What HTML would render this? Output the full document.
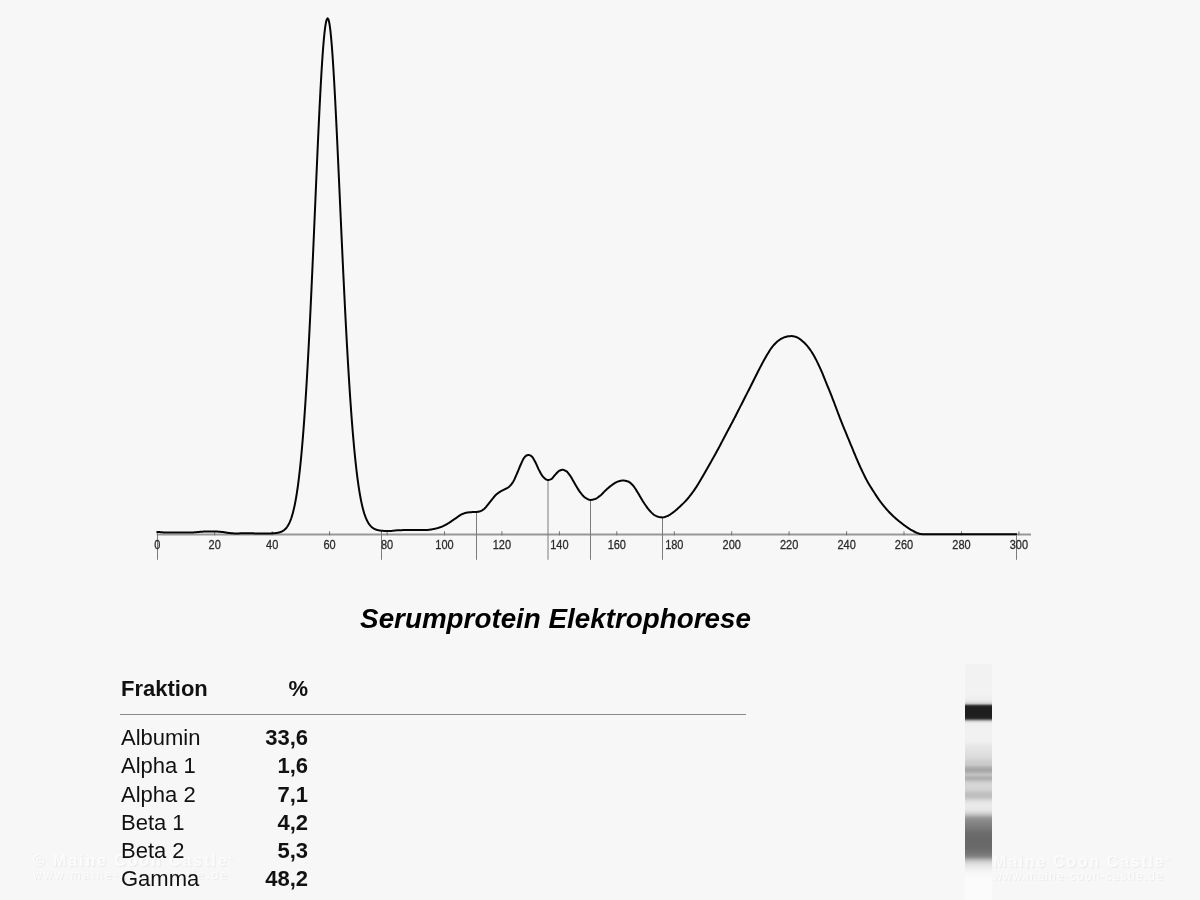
<!DOCTYPE html>
<html lang="de">
<head>
<meta charset="utf-8">
<title>Serumprotein Elektrophorese</title>
<style>
html,body{margin:0;padding:0;}
body{width:1200px;height:900px;overflow:hidden;background:#f7f7f7;font-family:"Liberation Sans",sans-serif;position:relative;}
#chart{position:absolute;left:0;top:0;width:1200px;height:600px;will-change:transform;}
#chart text{font-family:"Liberation Sans",sans-serif;font-size:11px;fill:#2a2a2a;stroke:#2a2a2a;stroke-width:0.25px;text-anchor:middle;}
.title{position:absolute;left:0;top:602.3px;width:1111px;text-align:center;font-weight:bold;font-style:italic;font-size:27.8px;line-height:34px;color:#000;white-space:nowrap;}
.hd{position:absolute;top:676.6px;font-weight:bold;font-size:22px;line-height:24px;color:#111;}
.rule{position:absolute;left:120px;top:714px;width:626px;height:1px;background:#8a8a8a;}
.rn{position:absolute;left:121px;font-size:22px;line-height:24px;color:#111;white-space:nowrap;}
.rv{position:absolute;left:208px;width:100px;text-align:right;font-weight:bold;font-size:22px;line-height:24px;color:#111;white-space:nowrap;}
.gel{position:absolute;left:965px;top:664.0px;width:27px;height:236px;background:linear-gradient(to bottom,rgb(243,243,243) 0.00%,rgb(243,243,243) 0.42%,rgb(242,242,242) 0.85%,rgb(242,242,242) 1.27%,rgb(242,242,242) 1.69%,rgb(242,242,242) 2.12%,rgb(242,242,242) 2.54%,rgb(242,242,242) 2.97%,rgb(242,242,242) 3.39%,rgb(242,242,242) 3.81%,rgb(242,242,242) 4.24%,rgb(242,242,242) 4.66%,rgb(242,242,242) 5.08%,rgb(242,242,242) 5.51%,rgb(242,242,242) 5.93%,rgb(242,242,242) 6.36%,rgb(242,242,242) 6.78%,rgb(242,242,242) 7.20%,rgb(242,242,242) 7.63%,rgb(242,242,242) 8.05%,rgb(242,242,242) 8.47%,rgb(242,242,242) 8.90%,rgb(242,242,242) 9.32%,rgb(242,242,242) 9.75%,rgb(242,242,242) 10.17%,rgb(242,242,242) 10.59%,rgb(242,242,242) 11.02%,rgb(242,242,242) 11.44%,rgb(242,242,242) 11.86%,rgb(242,242,242) 12.29%,rgb(241,241,241) 12.71%,rgb(241,241,241) 13.14%,rgb(241,241,241) 13.56%,rgb(240,240,240) 13.98%,rgb(240,240,240) 14.41%,rgb(238,238,238) 14.83%,rgb(236,236,236) 15.25%,rgb(232,232,232) 15.68%,rgb(225,225,225) 16.10%,rgb(213,213,213) 16.53%,rgb(184,184,184) 16.95%,rgb(96,96,96) 17.37%,rgb(42,42,42) 17.80%,rgb(34,34,34) 18.22%,rgb(32,32,32) 18.64%,rgb(31,31,31) 19.07%,rgb(31,31,31) 19.49%,rgb(30,30,30) 19.92%,rgb(30,30,30) 20.34%,rgb(30,30,30) 20.76%,rgb(30,30,30) 21.19%,rgb(31,31,31) 21.61%,rgb(32,32,32) 22.03%,rgb(33,33,33) 22.46%,rgb(38,38,38) 22.88%,rgb(71,71,71) 23.31%,rgb(134,134,134) 23.73%,rgb(189,189,189) 24.15%,rgb(223,223,223) 24.58%,rgb(235,235,235) 25.00%,rgb(239,239,239) 25.42%,rgb(240,240,240) 25.85%,rgb(240,240,240) 26.27%,rgb(241,241,241) 26.69%,rgb(241,241,241) 27.12%,rgb(241,241,241) 27.54%,rgb(241,241,241) 27.97%,rgb(241,241,241) 28.39%,rgb(241,241,241) 28.81%,rgb(241,241,241) 29.24%,rgb(241,241,241) 29.66%,rgb(241,241,241) 30.08%,rgb(241,241,241) 30.51%,rgb(241,241,241) 30.93%,rgb(241,241,241) 31.36%,rgb(241,241,241) 31.78%,rgb(240,240,240) 32.20%,rgb(240,240,240) 32.63%,rgb(240,240,240) 33.05%,rgb(238,238,238) 33.47%,rgb(235,235,235) 33.90%,rgb(233,233,233) 34.32%,rgb(231,231,231) 34.75%,rgb(230,230,230) 35.17%,rgb(229,229,229) 35.59%,rgb(229,229,229) 36.02%,rgb(227,227,227) 36.44%,rgb(226,226,226) 36.86%,rgb(225,225,225) 37.29%,rgb(224,224,224) 37.71%,rgb(223,223,223) 38.14%,rgb(221,221,221) 38.56%,rgb(220,220,220) 38.98%,rgb(219,219,219) 39.41%,rgb(217,217,217) 39.83%,rgb(215,215,215) 40.25%,rgb(211,211,211) 40.68%,rgb(207,207,207) 41.10%,rgb(205,205,205) 41.53%,rgb(204,204,204) 41.95%,rgb(202,202,202) 42.37%,rgb(200,200,200) 42.80%,rgb(192,192,192) 43.22%,rgb(180,180,180) 43.64%,rgb(173,173,173) 44.07%,rgb(169,169,169) 44.49%,rgb(166,166,166) 44.92%,rgb(168,168,168) 45.34%,rgb(175,175,175) 45.76%,rgb(182,182,182) 46.19%,rgb(191,191,191) 46.61%,rgb(194,194,194) 47.03%,rgb(187,187,187) 47.46%,rgb(180,180,180) 47.88%,rgb(174,174,174) 48.31%,rgb(177,177,177) 48.73%,rgb(185,185,185) 49.15%,rgb(195,195,195) 49.58%,rgb(205,205,205) 50.00%,rgb(209,209,209) 50.42%,rgb(212,212,212) 50.85%,rgb(213,213,213) 51.27%,rgb(214,214,214) 51.69%,rgb(214,214,214) 52.12%,rgb(213,213,213) 52.54%,rgb(211,211,211) 52.97%,rgb(208,208,208) 53.39%,rgb(204,204,204) 53.81%,rgb(198,198,198) 54.24%,rgb(194,194,194) 54.66%,rgb(192,192,192) 55.08%,rgb(190,190,190) 55.51%,rgb(191,191,191) 55.93%,rgb(194,194,194) 56.36%,rgb(198,198,198) 56.78%,rgb(205,205,205) 57.20%,rgb(215,215,215) 57.63%,rgb(222,222,222) 58.05%,rgb(226,226,226) 58.47%,rgb(230,230,230) 58.90%,rgb(233,233,233) 59.32%,rgb(234,234,234) 59.75%,rgb(234,234,234) 60.17%,rgb(233,233,233) 60.59%,rgb(232,232,232) 61.02%,rgb(231,231,231) 61.44%,rgb(229,229,229) 61.86%,rgb(224,224,224) 62.29%,rgb(217,217,217) 62.71%,rgb(210,210,210) 63.14%,rgb(201,201,201) 63.56%,rgb(190,190,190) 63.98%,rgb(177,177,177) 64.41%,rgb(163,163,163) 64.83%,rgb(154,154,154) 65.25%,rgb(147,147,147) 65.68%,rgb(142,142,142) 66.10%,rgb(138,138,138) 66.53%,rgb(135,135,135) 66.95%,rgb(132,132,132) 67.37%,rgb(130,130,130) 67.80%,rgb(128,128,128) 68.22%,rgb(125,125,125) 68.64%,rgb(123,123,123) 69.07%,rgb(120,120,120) 69.49%,rgb(117,117,117) 69.92%,rgb(115,115,115) 70.34%,rgb(113,113,113) 70.76%,rgb(111,111,111) 71.19%,rgb(109,109,109) 71.61%,rgb(108,108,108) 72.03%,rgb(107,107,107) 72.46%,rgb(106,106,106) 72.88%,rgb(105,105,105) 73.31%,rgb(104,104,104) 73.73%,rgb(104,104,104) 74.15%,rgb(104,104,104) 74.58%,rgb(104,104,104) 75.00%,rgb(104,104,104) 75.42%,rgb(104,104,104) 75.85%,rgb(105,105,105) 76.27%,rgb(105,105,105) 76.69%,rgb(105,105,105) 77.12%,rgb(106,106,106) 77.54%,rgb(106,106,106) 77.97%,rgb(108,108,108) 78.39%,rgb(110,110,110) 78.81%,rgb(113,113,113) 79.24%,rgb(115,115,115) 79.66%,rgb(117,117,117) 80.08%,rgb(120,120,120) 80.51%,rgb(124,124,124) 80.93%,rgb(129,129,129) 81.36%,rgb(140,140,140) 81.78%,rgb(153,153,153) 82.20%,rgb(170,170,170) 82.63%,rgb(185,185,185) 83.05%,rgb(197,197,197) 83.47%,rgb(208,208,208) 83.90%,rgb(215,215,215) 84.32%,rgb(221,221,221) 84.75%,rgb(226,226,226) 85.17%,rgb(230,230,230) 85.59%,rgb(234,234,234) 86.02%,rgb(236,236,236) 86.44%,rgb(239,239,239) 86.86%,rgb(241,241,241) 87.29%,rgb(243,243,243) 87.71%,rgb(245,245,245) 88.14%,rgb(246,246,246) 88.56%,rgb(248,248,248) 88.98%,rgb(248,248,248) 89.41%,rgb(249,249,249) 89.83%,rgb(250,250,250) 90.25%,rgb(251,251,251) 90.68%,rgb(251,251,251) 91.10%,rgb(251,251,251) 91.53%,rgb(251,251,251) 91.95%,rgb(251,251,251) 92.37%,rgb(251,251,251) 92.80%,rgb(251,251,251) 93.22%,rgb(251,251,251) 93.64%,rgb(251,251,251) 94.07%,rgb(251,251,251) 94.49%,rgb(251,251,251) 94.92%,rgb(251,251,251) 95.34%,rgb(251,251,251) 95.76%,rgb(251,251,251) 96.19%,rgb(251,251,251) 96.61%,rgb(251,251,251) 97.03%,rgb(251,251,251) 97.46%,rgb(251,251,251) 97.88%,rgb(251,251,251) 98.31%,rgb(251,251,251) 98.73%,rgb(251,251,251) 99.15%,rgb(251,251,251) 99.58%,rgb(251,251,251) 100.00%);}
.wm{position:absolute;z-index:0;color:#fff;opacity:.62;font-weight:bold;white-space:nowrap;text-shadow:1px 1px 1px rgba(0,0,0,.10);}
.hd,.rn,.rv{z-index:2;}
.title,.hd,.rn,.rv,.wm{will-change:transform;}
</style>
</head>
<body>
<svg id="chart" width="1200" height="600" viewBox="0 0 1200 600">
<line x1="157" y1="534.5" x2="1031" y2="534.5" stroke="#989898" stroke-width="2"/>
<g stroke="#707070" stroke-width="1"><line x1="157.3" y1="531.3" x2="157.3" y2="535.3" /><line x1="214.7" y1="531.3" x2="214.7" y2="535.3" /><line x1="272.2" y1="531.3" x2="272.2" y2="535.3" /><line x1="329.6" y1="531.3" x2="329.6" y2="535.3" /><line x1="387.1" y1="531.3" x2="387.1" y2="535.3" /><line x1="444.5" y1="531.3" x2="444.5" y2="535.3" /><line x1="501.9" y1="531.3" x2="501.9" y2="535.3" /><line x1="559.4" y1="531.3" x2="559.4" y2="535.3" /><line x1="616.8" y1="531.3" x2="616.8" y2="535.3" /><line x1="674.3" y1="531.3" x2="674.3" y2="535.3" /><line x1="731.7" y1="531.3" x2="731.7" y2="535.3" /><line x1="789.1" y1="531.3" x2="789.1" y2="535.3" /><line x1="846.6" y1="531.3" x2="846.6" y2="535.3" /><line x1="904.0" y1="531.3" x2="904.0" y2="535.3" /><line x1="961.5" y1="531.3" x2="961.5" y2="535.3" /><line x1="1018.9" y1="531.3" x2="1018.9" y2="535.3" /></g>
<g stroke="#7c7c7c" stroke-width="1"><line x1="157.5" y1="531.9" x2="157.5" y2="559.8" /><line x1="381.5" y1="530.7" x2="381.5" y2="559.8" /><line x1="476.5" y1="512.0" x2="476.5" y2="559.8" /><line x1="548.0" y1="480.0" x2="548.0" y2="559.8" /><line x1="590.5" y1="499.9" x2="590.5" y2="559.8" /><line x1="662.5" y1="517.4" x2="662.5" y2="559.8" /><line x1="1016.5" y1="533.0" x2="1016.5" y2="559.8" /></g>
<g><text transform="translate(157.3,548.9) scale(1,1.1)">0</text><text transform="translate(214.7,548.9) scale(1,1.1)">20</text><text transform="translate(272.2,548.9) scale(1,1.1)">40</text><text transform="translate(329.6,548.9) scale(1,1.1)">60</text><text transform="translate(387.1,548.9) scale(1,1.1)">80</text><text transform="translate(444.5,548.9) scale(1,1.1)">100</text><text transform="translate(501.9,548.9) scale(1,1.1)">120</text><text transform="translate(559.4,548.9) scale(1,1.1)">140</text><text transform="translate(616.8,548.9) scale(1,1.1)">160</text><text transform="translate(674.3,548.9) scale(1,1.1)">180</text><text transform="translate(731.7,548.9) scale(1,1.1)">200</text><text transform="translate(789.1,548.9) scale(1,1.1)">220</text><text transform="translate(846.6,548.9) scale(1,1.1)">240</text><text transform="translate(904.0,548.9) scale(1,1.1)">260</text><text transform="translate(961.5,548.9) scale(1,1.1)">280</text><text transform="translate(1018.9,548.9) scale(1,1.1)">300</text></g>
<path d="M157.30,531.90 L157.80,531.95 L158.30,531.99 L158.80,532.04 L159.30,532.08 L159.80,532.12 L160.30,532.17 L160.80,532.21 L161.30,532.25 L161.80,532.29 L162.30,532.32 L162.80,532.36 L163.30,532.39 L163.80,532.41 L164.30,532.44 L164.80,532.46 L165.30,532.48 L165.80,532.49 L166.30,532.50 L166.80,532.51 L167.30,532.51 L167.80,532.52 L168.30,532.53 L168.80,532.53 L169.30,532.54 L169.80,532.54 L170.30,532.55 L170.80,532.55 L171.30,532.56 L171.80,532.56 L172.30,532.57 L172.80,532.57 L173.30,532.57 L173.80,532.58 L174.30,532.58 L174.80,532.58 L175.30,532.59 L175.80,532.59 L176.30,532.59 L176.80,532.59 L177.30,532.60 L177.80,532.60 L178.30,532.60 L178.80,532.60 L179.30,532.60 L179.80,532.60 L180.30,532.60 L180.80,532.60 L181.30,532.60 L181.80,532.60 L182.30,532.60 L182.80,532.59 L183.30,532.59 L183.80,532.59 L184.30,532.58 L184.80,532.58 L185.30,532.58 L185.80,532.57 L186.30,532.57 L186.80,532.56 L187.30,532.55 L187.80,532.55 L188.30,532.54 L188.80,532.54 L189.30,532.53 L189.80,532.52 L190.30,532.52 L190.80,532.51 L191.30,532.50 L191.80,532.49 L192.30,532.47 L192.80,532.45 L193.30,532.42 L193.80,532.39 L194.30,532.35 L194.80,532.31 L195.30,532.27 L195.80,532.22 L196.30,532.17 L196.80,532.13 L197.30,532.08 L197.80,532.03 L198.30,531.98 L198.80,531.93 L199.30,531.88 L199.80,531.83 L200.30,531.79 L200.80,531.75 L201.30,531.71 L201.80,531.68 L202.30,531.65 L202.80,531.63 L203.30,531.61 L203.80,531.60 L204.30,531.59 L204.80,531.58 L205.30,531.58 L205.80,531.57 L206.30,531.56 L206.80,531.56 L207.30,531.55 L207.80,531.54 L208.30,531.54 L208.80,531.53 L209.30,531.53 L209.80,531.52 L210.30,531.52 L210.80,531.52 L211.30,531.51 L211.80,531.51 L212.30,531.51 L212.80,531.50 L213.30,531.50 L213.80,531.50 L214.30,531.50 L214.80,531.50 L215.30,531.50 L215.80,531.51 L216.30,531.52 L216.80,531.54 L217.30,531.57 L217.80,531.60 L218.30,531.63 L218.80,531.67 L219.30,531.71 L219.80,531.75 L220.30,531.80 L220.80,531.84 L221.30,531.89 L221.80,531.93 L222.30,531.98 L222.80,532.03 L223.30,532.09 L223.80,532.15 L224.30,532.23 L224.80,532.31 L225.30,532.40 L225.80,532.48 L226.30,532.57 L226.80,532.66 L227.30,532.75 L227.80,532.83 L228.30,532.90 L228.80,532.97 L229.30,533.03 L229.80,533.08 L230.30,533.12 L230.80,533.16 L231.30,533.20 L231.80,533.24 L232.30,533.28 L232.80,533.31 L233.30,533.35 L233.80,533.38 L234.30,533.40 L234.80,533.43 L235.30,533.45 L235.80,533.47 L236.30,533.49 L236.80,533.49 L237.30,533.50 L237.80,533.50 L238.30,533.48 L238.80,533.45 L239.30,533.41 L239.80,533.37 L240.30,533.32 L240.80,533.28 L241.30,533.24 L241.80,533.22 L242.30,533.20 L242.80,533.20 L243.30,533.20 L243.80,533.20 L244.30,533.21 L244.80,533.21 L245.30,533.22 L245.80,533.22 L246.30,533.23 L246.80,533.24 L247.30,533.25 L247.80,533.26 L248.30,533.27 L248.80,533.27 L249.30,533.28 L249.80,533.29 L250.30,533.30 L250.80,533.31 L251.30,533.32 L251.80,533.33 L252.30,533.34 L252.80,533.35 L253.30,533.36 L253.80,533.37 L254.30,533.38 L254.80,533.39 L255.30,533.39 L255.80,533.40 L256.30,533.40 L256.80,533.41 L257.30,533.41 L257.80,533.42 L258.30,533.42 L258.80,533.43 L259.30,533.43 L259.80,533.44 L260.30,533.44 L260.80,533.45 L261.30,533.45 L261.80,533.46 L262.30,533.46 L262.80,533.47 L263.30,533.47 L263.80,533.47 L264.30,533.48 L264.80,533.48 L265.30,533.48 L265.80,533.49 L266.30,533.49 L266.80,533.49 L267.30,533.49 L267.80,533.50 L268.30,533.50 L268.59,533.45 L268.72,533.44 L268.86,533.44 L269.00,533.44 L269.14,533.44 L269.28,533.44 L269.42,533.43 L269.55,533.43 L269.69,533.43 L269.83,533.42 L269.97,533.42 L270.12,533.42 L270.26,533.41 L270.40,533.41 L270.54,533.41 L270.68,533.40 L270.82,533.40 L270.97,533.39 L271.11,533.39 L271.25,533.38 L271.40,533.38 L271.54,533.37 L271.69,533.37 L271.83,533.36 L271.98,533.36 L272.12,533.35 L272.27,533.34 L272.41,533.34 L272.56,533.33 L272.71,533.32 L272.86,533.31 L273.00,533.31 L273.15,533.30 L273.30,533.29 L273.45,533.28 L273.60,533.27 L273.75,533.26 L273.90,533.25 L274.05,533.24 L274.20,533.23 L274.36,533.21 L274.51,533.20 L274.66,533.19 L274.81,533.18 L274.97,533.16 L275.12,533.15 L275.28,533.13 L275.43,533.12 L275.59,533.10 L275.74,533.08 L275.90,533.06 L276.06,533.04 L276.21,533.02 L276.37,533.00 L276.53,532.98 L276.69,532.96 L276.85,532.93 L277.01,532.91 L277.17,532.88 L277.33,532.86 L277.49,532.83 L277.65,532.80 L277.82,532.77 L277.98,532.74 L278.14,532.70 L278.31,532.67 L278.47,532.63 L278.64,532.59 L278.80,532.55 L278.97,532.51 L279.14,532.47 L279.30,532.43 L279.47,532.38 L279.64,532.33 L279.81,532.28 L279.98,532.22 L280.15,532.17 L280.32,532.11 L280.49,532.05 L280.67,531.99 L280.84,531.92 L281.01,531.85 L281.19,531.78 L281.36,531.70 L281.54,531.63 L281.72,531.54 L281.89,531.46 L282.07,531.37 L282.25,531.28 L282.43,531.18 L282.61,531.08 L282.79,530.97 L282.97,530.86 L283.16,530.74 L283.34,530.62 L283.52,530.50 L283.71,530.37 L283.89,530.23 L284.08,530.09 L284.27,529.94 L284.46,529.78 L284.65,529.62 L284.84,529.45 L285.03,529.27 L285.22,529.09 L285.41,528.89 L285.60,528.69 L285.80,528.48 L285.99,528.26 L286.19,528.03 L286.39,527.80 L286.59,527.55 L286.79,527.29 L286.99,527.01 L287.19,526.73 L287.39,526.43 L287.60,526.13 L287.80,525.80 L288.01,525.47 L288.21,525.12 L288.42,524.75 L288.63,524.37 L288.84,523.97 L289.05,523.55 L289.27,523.11 L289.48,522.66 L289.70,522.19 L289.91,521.69 L290.13,521.17 L290.35,520.64 L290.57,520.07 L290.79,519.49 L291.02,518.87 L291.24,518.23 L291.47,517.57 L291.70,516.87 L291.93,516.14 L292.16,515.38 L292.39,514.59 L292.63,513.76 L292.86,512.90 L293.10,512.00 L293.34,511.06 L293.58,510.08 L293.83,509.05 L294.07,507.99 L294.32,506.87 L294.57,505.71 L294.82,504.49 L295.07,503.22 L295.33,501.90 L295.59,500.52 L295.85,499.07 L296.11,497.57 L296.37,496.00 L296.64,494.36 L296.91,492.64 L297.18,490.86 L297.45,488.99 L297.73,487.05 L298.01,485.02 L298.29,482.90 L298.57,480.68 L298.86,478.37 L299.15,475.96 L299.44,473.45 L299.74,470.82 L300.03,468.08 L300.34,465.22 L300.64,462.23 L300.95,459.12 L301.26,455.86 L301.58,452.47 L301.90,448.92 L302.22,445.22 L302.55,441.36 L302.88,437.33 L303.21,433.12 L303.55,428.73 L303.90,424.15 L304.25,419.37 L304.60,414.37 L304.96,409.16 L305.32,403.72 L305.69,398.05 L306.07,392.12 L306.45,385.94 L306.83,379.48 L307.22,372.75 L307.62,365.71 L308.03,358.37 L308.44,350.71 L308.86,342.72 L309.29,334.37 L309.73,325.66 L310.18,316.57 L310.63,307.08 L311.10,297.17 L311.58,286.84 L312.07,276.05 L312.13,274.75 L312.19,273.46 L312.25,272.16 L312.31,270.87 L312.36,269.58 L312.42,268.28 L312.48,266.99 L312.54,265.69 L312.60,264.40 L312.65,263.11 L312.71,261.81 L312.77,260.52 L312.83,259.22 L312.88,257.93 L312.94,256.64 L313.00,255.34 L313.05,254.05 L313.11,252.75 L313.17,251.46 L313.22,250.16 L313.28,248.87 L313.34,247.58 L313.39,246.28 L313.45,244.99 L313.51,243.69 L313.56,242.40 L313.62,241.10 L313.68,239.81 L313.73,238.52 L313.79,237.22 L313.85,235.93 L313.90,234.63 L313.96,233.34 L314.01,232.05 L314.07,230.75 L314.13,229.46 L314.18,228.16 L314.24,226.87 L314.29,225.57 L314.35,224.28 L314.41,222.99 L314.46,221.69 L314.52,220.40 L314.57,219.10 L314.63,217.81 L314.68,216.51 L314.74,215.22 L314.80,213.93 L314.85,212.63 L314.91,211.34 L314.96,210.04 L315.02,208.75 L315.07,207.46 L315.13,206.16 L315.19,204.87 L315.24,203.57 L315.30,202.28 L315.35,200.98 L315.41,199.69 L315.46,198.40 L315.52,197.10 L315.58,195.81 L315.63,194.51 L315.69,193.22 L315.74,191.92 L315.80,190.63 L315.86,189.34 L315.91,188.04 L315.97,186.75 L316.02,185.45 L316.08,184.16 L316.14,182.86 L316.19,181.57 L316.25,180.28 L316.30,178.98 L316.36,177.69 L316.42,176.39 L316.47,175.10 L316.53,173.80 L316.59,172.51 L316.64,171.21 L316.70,169.92 L316.76,168.63 L316.81,167.33 L316.87,166.04 L316.93,164.74 L316.98,163.45 L317.04,162.15 L317.10,160.86 L317.15,159.57 L317.21,158.27 L317.27,156.98 L317.33,155.68 L317.38,154.39 L317.44,153.09 L317.50,151.80 L317.56,150.50 L317.62,149.21 L317.67,147.92 L317.73,146.62 L317.79,145.33 L317.85,144.03 L317.91,142.74 L317.97,141.44 L318.03,140.15 L318.09,138.86 L318.14,137.56 L318.20,136.27 L318.26,134.97 L318.32,133.68 L318.38,132.38 L318.44,131.09 L318.50,129.79 L318.56,128.50 L318.63,127.20 L318.69,125.91 L318.75,124.62 L318.81,123.32 L318.87,122.03 L318.93,120.73 L318.99,119.44 L319.06,118.14 L319.12,116.85 L319.18,115.55 L319.24,114.26 L319.31,112.96 L319.37,111.67 L319.44,110.38 L319.50,109.08 L319.56,107.79 L319.63,106.49 L319.69,105.20 L319.76,103.90 L319.82,102.61 L319.89,101.31 L319.96,100.02 L320.02,98.72 L320.09,97.43 L320.16,96.13 L320.23,94.84 L320.29,93.54 L320.36,92.25 L320.43,90.96 L320.50,89.66 L320.57,88.37 L320.64,87.07 L320.71,85.78 L320.79,84.48 L320.86,83.19 L320.93,81.89 L321.00,80.60 L321.08,79.30 L321.15,78.01 L321.23,76.71 L321.30,75.42 L321.38,74.12 L321.46,72.83 L321.53,71.53 L321.61,70.24 L321.69,68.94 L321.77,67.65 L321.85,66.35 L321.94,65.06 L322.02,63.76 L322.10,62.47 L322.19,61.17 L322.28,59.88 L322.36,58.58 L322.45,57.28 L322.54,55.99 L322.63,54.69 L322.73,53.40 L322.82,52.10 L322.92,50.81 L323.01,49.51 L323.11,48.22 L323.22,46.92 L323.32,45.63 L323.42,44.33 L323.53,43.03 L323.64,41.74 L323.76,40.44 L323.88,39.15 L324.00,37.85 L324.12,36.55 L324.25,35.26 L324.38,33.96 L324.52,32.66 L324.67,31.37 L324.82,30.07 L324.98,28.77 L325.15,27.48 L325.33,26.18 L325.53,24.88 L325.75,23.58 L326.00,22.28 L326.30,20.98 L326.68,19.68 L327.60,18.36 L328.49,19.63 L328.87,20.92 L329.15,22.20 L329.39,23.49 L329.61,24.78 L329.80,26.06 L329.98,27.35 L330.15,28.64 L330.30,29.93 L330.45,31.22 L330.59,32.51 L330.73,33.80 L330.86,35.09 L330.99,36.38 L331.11,37.67 L331.23,38.96 L331.34,40.25 L331.46,41.54 L331.56,42.82 L331.67,44.11 L331.78,45.40 L331.88,46.69 L331.98,47.98 L332.08,49.27 L332.17,50.56 L332.27,51.85 L332.36,53.14 L332.46,54.43 L332.55,55.72 L332.64,57.01 L332.72,58.30 L332.81,59.59 L332.90,60.88 L332.98,62.17 L333.07,63.46 L333.15,64.75 L333.23,66.04 L333.31,67.33 L333.39,68.62 L333.47,69.91 L333.55,71.20 L333.63,72.49 L333.71,73.78 L333.78,75.07 L333.86,76.36 L333.94,77.65 L334.01,78.94 L334.09,80.23 L334.16,81.52 L334.23,82.81 L334.31,84.10 L334.38,85.39 L334.45,86.68 L334.52,87.97 L334.59,89.26 L334.66,90.55 L334.73,91.84 L334.80,93.13 L334.87,94.42 L334.94,95.71 L335.01,97.00 L335.08,98.29 L335.15,99.58 L335.21,100.87 L335.28,102.16 L335.35,103.45 L335.41,104.74 L335.48,106.03 L335.55,107.32 L335.61,108.61 L335.68,109.90 L335.74,111.19 L335.81,112.48 L335.87,113.77 L335.94,115.06 L336.00,116.35 L336.07,117.64 L336.13,118.93 L336.19,120.22 L336.26,121.51 L336.32,122.80 L336.38,124.09 L336.45,125.38 L336.51,126.67 L336.57,127.96 L336.63,129.25 L336.70,130.54 L336.76,131.83 L336.82,133.12 L336.88,134.41 L336.94,135.70 L337.00,136.99 L337.07,138.28 L337.13,139.57 L337.19,140.86 L337.25,142.15 L337.31,143.44 L337.37,144.73 L337.43,146.02 L337.49,147.31 L337.55,148.60 L337.61,149.89 L337.67,151.18 L337.73,152.47 L337.79,153.76 L337.85,155.05 L337.91,156.34 L337.97,157.63 L338.03,158.92 L338.09,160.21 L338.15,161.50 L338.21,162.80 L338.27,164.09 L338.33,165.38 L338.39,166.67 L338.45,167.96 L338.51,169.25 L338.56,170.54 L338.62,171.83 L338.68,173.12 L338.74,174.41 L338.80,175.70 L338.86,176.99 L338.92,178.27 L338.98,179.56 L339.04,180.85 L339.09,182.14 L339.15,183.43 L339.21,184.72 L339.27,186.01 L339.33,187.30 L339.39,188.59 L339.45,189.88 L339.50,191.17 L339.56,192.46 L339.62,193.75 L339.68,195.04 L339.74,196.33 L339.80,197.62 L339.86,198.91 L339.91,200.20 L339.97,201.49 L340.03,202.78 L340.09,204.07 L340.15,205.36 L340.21,206.65 L340.27,207.94 L340.32,209.23 L340.38,210.52 L340.44,211.81 L340.50,213.10 L340.56,214.39 L340.62,215.68 L340.68,216.97 L340.74,218.26 L340.79,219.55 L340.85,220.84 L340.91,222.13 L340.97,223.42 L341.03,224.71 L341.09,226.00 L341.15,227.29 L341.21,228.58 L341.27,229.87 L341.32,231.16 L341.38,232.45 L341.44,233.74 L341.50,235.03 L341.56,236.32 L341.62,237.61 L341.68,238.90 L341.74,240.19 L341.80,241.48 L341.86,242.77 L341.92,244.06 L341.98,245.35 L342.04,246.64 L342.10,247.93 L342.16,249.22 L342.22,250.51 L342.28,251.80 L342.34,253.09 L342.40,254.38 L342.46,255.67 L342.52,256.96 L342.58,258.25 L342.64,259.54 L342.70,260.83 L342.76,262.11 L342.82,263.40 L342.89,264.69 L342.95,265.98 L343.01,267.27 L343.07,268.56 L343.13,269.85 L343.19,271.14 L343.25,272.43 L343.32,273.72 L343.38,275.01 L343.90,285.76 L344.41,296.06 L344.90,305.93 L345.38,315.39 L345.86,324.45 L346.32,333.13 L346.77,341.44 L347.22,349.41 L347.65,357.04 L348.08,364.35 L348.50,371.36 L348.92,378.07 L349.32,384.50 L349.72,390.66 L350.12,396.57 L350.50,402.22 L350.89,407.64 L351.26,412.83 L351.63,417.80 L352.00,422.56 L352.36,427.12 L352.71,431.49 L353.06,435.68 L353.41,439.69 L353.75,443.53 L354.09,447.21 L354.42,450.74 L354.75,454.12 L355.08,457.35 L355.40,460.45 L355.71,463.42 L356.03,466.26 L356.34,468.99 L356.65,471.60 L356.95,474.10 L357.25,476.49 L357.55,478.78 L357.85,480.98 L358.14,483.09 L358.43,485.10 L358.71,487.04 L359.00,488.89 L359.28,490.66 L359.56,492.36 L359.83,493.99 L360.11,495.54 L360.38,497.04 L360.65,498.47 L360.91,499.84 L361.18,501.15 L361.44,502.41 L361.70,503.61 L361.96,504.77 L362.21,505.87 L362.47,506.93 L362.72,507.95 L362.97,508.92 L363.22,509.85 L363.46,510.74 L363.71,511.60 L363.95,512.42 L364.19,513.20 L364.43,513.96 L364.67,514.68 L364.91,515.37 L365.14,516.03 L365.37,516.66 L365.60,517.27 L365.83,517.85 L366.06,518.41 L366.29,518.94 L366.52,519.45 L366.74,519.94 L366.96,520.41 L367.18,520.86 L367.40,521.29 L367.62,521.70 L367.84,522.10 L368.06,522.48 L368.27,522.84 L368.49,523.18 L368.70,523.51 L368.91,523.83 L369.12,524.14 L369.33,524.43 L369.54,524.71 L369.75,524.97 L369.95,525.23 L370.16,525.48 L370.36,525.71 L370.56,525.94 L370.77,526.15 L370.97,526.36 L371.17,526.56 L371.37,526.74 L371.57,526.93 L371.76,527.10 L371.96,527.27 L372.15,527.43 L372.35,527.58 L372.54,527.72 L372.74,527.86 L372.93,528.00 L373.12,528.13 L373.31,528.25 L373.50,528.37 L373.69,528.48 L373.87,528.59 L374.06,528.69 L374.25,528.79 L374.43,528.89 L374.62,528.98 L374.80,529.07 L374.98,529.15 L375.17,529.23 L375.35,529.31 L375.53,529.38 L375.71,529.45 L375.89,529.52 L376.07,529.59 L376.25,529.65 L376.42,529.71 L376.60,529.77 L376.78,529.82 L376.95,529.88 L377.13,529.93 L377.30,529.98 L377.48,530.03 L377.65,530.07 L377.82,530.11 L377.99,530.15 L378.17,530.19 L378.34,530.23 L378.51,530.27 L378.68,530.30 L378.85,530.34 L379.01,530.37 L379.18,530.40 L379.35,530.43 L379.52,530.46 L379.68,530.48 L379.85,530.51 L380.01,530.53 L380.18,530.56 L380.34,530.58 L380.50,530.60 L380.67,530.62 L380.83,530.64 L380.99,530.66 L381.15,530.68 L381.32,530.70 L381.48,530.72 L381.64,530.73 L381.80,530.75 L381.95,530.76 L382.11,530.78 L382.27,530.79 L382.43,530.80 L382.59,530.81 L382.74,530.83 L382.90,530.84 L383.06,530.85 L383.21,530.86 L383.37,530.87 L383.52,530.88 L383.68,530.89 L383.83,530.90 L383.98,530.91 L384.14,530.91 L384.29,530.92 L384.44,530.93 L384.59,530.94 L384.74,530.94 L384.89,530.95 L385.04,530.96 L385.19,530.96 L385.34,530.97 L385.49,530.97 L385.64,530.98 L385.79,530.98 L385.94,530.98 L386.09,530.98 L386.23,530.99 L386.38,530.99 L386.53,530.99 L386.67,530.99 L386.82,530.99 L386.97,530.99 L387.11,530.99 L387.26,530.99 L387.40,530.99 L387.55,530.99 L387.69,530.99 L387.83,530.98 L387.98,530.98 L388.12,530.98 L388.26,530.98 L388.40,530.97 L388.54,530.97 L388.54,530.97 L389.04,531.00 L389.54,530.98 L390.04,530.96 L390.54,530.93 L391.04,530.91 L391.54,530.88 L392.04,530.85 L392.54,530.80 L393.04,530.75 L393.54,530.69 L394.04,530.63 L394.54,530.57 L395.04,530.51 L395.54,530.46 L396.04,530.41 L396.54,530.36 L397.04,530.32 L397.54,530.30 L398.04,530.28 L398.54,530.26 L399.04,530.24 L399.54,530.22 L400.04,530.20 L400.54,530.18 L401.04,530.17 L401.54,530.15 L402.04,530.13 L402.54,530.12 L403.04,530.10 L403.54,530.09 L404.04,530.08 L404.54,530.07 L405.04,530.06 L405.54,530.05 L406.04,530.04 L406.54,530.03 L407.04,530.02 L407.54,530.01 L408.04,530.01 L408.54,530.01 L409.04,530.00 L409.54,530.00 L410.04,530.00 L410.54,530.00 L411.04,530.00 L411.54,530.00 L412.04,530.00 L412.54,530.00 L413.04,530.00 L413.54,530.00 L414.04,530.00 L414.54,530.00 L415.04,530.00 L415.54,530.00 L416.04,530.00 L416.54,530.00 L417.04,530.00 L417.54,530.00 L418.04,530.00 L418.54,530.00 L419.04,530.00 L419.54,530.00 L420.04,530.00 L420.54,530.00 L421.04,530.00 L421.54,530.00 L422.04,530.00 L422.54,530.00 L423.04,530.00 L423.54,530.00 L424.04,530.00 L424.54,530.00 L425.04,530.00 L425.54,530.00 L426.04,530.00 L426.54,530.00 L427.04,529.98 L427.54,529.95 L428.04,529.91 L428.54,529.86 L429.04,529.80 L429.54,529.74 L430.04,529.66 L430.54,529.58 L431.04,529.50 L431.54,529.41 L432.04,529.32 L432.54,529.22 L433.04,529.13 L433.54,529.04 L434.04,528.95 L434.54,528.85 L435.04,528.74 L435.54,528.63 L436.04,528.51 L436.54,528.38 L437.04,528.25 L437.54,528.11 L438.04,527.96 L438.54,527.81 L439.04,527.65 L439.54,527.49 L440.04,527.32 L440.54,527.15 L441.04,526.97 L441.54,526.79 L442.04,526.59 L442.54,526.38 L443.04,526.15 L443.54,525.91 L444.04,525.66 L444.54,525.40 L445.04,525.13 L445.54,524.86 L446.04,524.58 L446.54,524.30 L447.04,524.01 L447.54,523.72 L448.04,523.43 L448.54,523.12 L449.04,522.81 L449.54,522.48 L450.04,522.15 L450.54,521.81 L451.04,521.47 L451.54,521.12 L452.04,520.77 L452.54,520.42 L453.04,520.07 L453.54,519.73 L454.04,519.38 L454.54,519.05 L455.04,518.72 L455.54,518.39 L456.04,518.05 L456.54,517.70 L457.04,517.34 L457.54,516.99 L458.04,516.63 L458.54,516.28 L459.04,515.94 L459.54,515.60 L460.04,515.28 L460.54,514.98 L461.04,514.70 L461.54,514.43 L462.04,514.19 L462.54,513.98 L463.04,513.79 L463.54,513.59 L464.04,513.41 L464.54,513.23 L465.04,513.07 L465.54,512.92 L466.04,512.78 L466.54,512.66 L467.04,512.57 L467.54,512.49 L468.04,512.43 L468.54,512.38 L469.04,512.33 L469.54,512.28 L470.04,512.24 L470.54,512.21 L471.04,512.17 L471.54,512.14 L472.04,512.12 L472.54,512.10 L473.04,512.08 L473.54,512.07 L474.04,512.06 L474.54,512.05 L475.04,512.04 L475.54,512.03 L476.04,512.01 L476.54,511.98 L477.04,511.93 L477.54,511.86 L478.04,511.78 L478.54,511.67 L479.04,511.55 L479.54,511.42 L480.04,511.29 L480.54,511.12 L481.04,510.90 L481.54,510.65 L482.04,510.36 L482.54,510.05 L483.04,509.70 L483.54,509.34 L484.04,508.97 L484.54,508.54 L485.04,508.04 L485.54,507.50 L486.04,506.91 L486.54,506.29 L487.04,505.67 L487.54,505.05 L488.04,504.45 L488.54,503.84 L489.04,503.22 L489.54,502.59 L490.04,501.96 L490.54,501.32 L491.04,500.68 L491.54,500.06 L492.04,499.45 L492.54,498.83 L493.04,498.20 L493.54,497.57 L494.04,496.95 L494.54,496.34 L495.04,495.77 L495.54,495.24 L496.04,494.76 L496.54,494.32 L497.04,493.90 L497.54,493.50 L498.04,493.12 L498.54,492.76 L499.04,492.41 L499.54,492.09 L500.04,491.77 L500.54,491.48 L501.04,491.20 L501.54,490.94 L502.04,490.69 L502.54,490.44 L503.04,490.20 L503.54,489.96 L504.04,489.71 L504.54,489.45 L505.04,489.18 L505.54,488.90 L506.04,488.64 L506.54,488.37 L507.04,488.10 L507.54,487.80 L508.04,487.49 L508.54,487.15 L509.04,486.76 L509.54,486.33 L510.04,485.84 L510.54,485.30 L511.04,484.71 L511.54,484.08 L512.04,483.40 L512.54,482.68 L513.04,481.93 L513.54,481.09 L514.04,480.14 L514.54,479.10 L515.04,478.00 L515.54,476.86 L516.04,475.70 L516.54,474.54 L517.04,473.40 L517.54,472.25 L518.04,471.05 L518.54,469.83 L519.04,468.60 L519.54,467.38 L520.04,466.17 L520.54,465.01 L521.04,463.90 L521.54,462.80 L522.04,461.68 L522.54,460.59 L523.04,459.58 L523.54,458.68 L524.04,457.94 L524.54,457.29 L525.04,456.68 L525.54,456.15 L526.04,455.74 L526.54,455.48 L527.04,455.32 L527.54,455.17 L528.04,455.07 L528.54,455.01 L529.04,455.01 L529.54,455.12 L530.04,455.32 L530.54,455.59 L531.04,455.90 L531.54,456.23 L532.04,456.68 L532.54,457.29 L533.04,458.04 L533.54,458.88 L534.04,459.77 L534.54,460.68 L535.04,461.58 L535.54,462.52 L536.04,463.56 L536.54,464.66 L537.04,465.79 L537.54,466.92 L538.04,468.04 L538.54,469.10 L539.04,470.08 L539.54,471.04 L540.04,471.98 L540.54,472.91 L541.04,473.80 L541.54,474.63 L542.04,475.39 L542.54,476.06 L543.04,476.67 L543.54,477.26 L544.04,477.81 L544.54,478.29 L545.04,478.70 L545.54,479.03 L546.04,479.31 L546.54,479.58 L547.04,479.80 L547.54,479.95 L548.04,480.00 L548.54,479.96 L549.04,479.87 L549.54,479.74 L550.04,479.58 L550.54,479.39 L551.04,479.18 L551.54,478.89 L552.04,478.46 L552.54,477.94 L553.04,477.35 L553.54,476.73 L554.04,476.10 L554.54,475.50 L555.04,474.95 L555.54,474.41 L556.04,473.84 L556.54,473.26 L557.04,472.69 L557.54,472.16 L558.04,471.68 L558.54,471.28 L559.04,470.98 L559.54,470.73 L560.04,470.48 L560.54,470.26 L561.04,470.07 L561.54,469.92 L562.04,469.83 L562.54,469.80 L563.04,469.84 L563.54,469.94 L564.04,470.10 L564.54,470.29 L565.04,470.52 L565.54,470.77 L566.04,471.02 L566.54,471.35 L567.04,471.79 L567.54,472.31 L568.04,472.89 L568.54,473.53 L569.04,474.20 L569.54,474.88 L570.04,475.56 L570.54,476.27 L571.04,477.05 L571.54,477.88 L572.04,478.75 L572.54,479.64 L573.04,480.55 L573.54,481.46 L574.04,482.36 L574.54,483.23 L575.04,484.07 L575.54,484.91 L576.04,485.75 L576.54,486.61 L577.04,487.45 L577.54,488.29 L578.04,489.11 L578.54,489.90 L579.04,490.66 L579.54,491.38 L580.04,492.06 L580.54,492.71 L581.04,493.36 L581.54,494.00 L582.04,494.63 L582.54,495.22 L583.04,495.79 L583.54,496.30 L584.04,496.77 L584.54,497.18 L585.04,497.53 L585.54,497.84 L586.04,498.16 L586.54,498.46 L587.04,498.76 L587.54,499.03 L588.04,499.27 L588.54,499.49 L589.04,499.66 L589.54,499.79 L590.04,499.88 L590.54,499.90 L591.04,499.88 L591.54,499.83 L592.04,499.76 L592.54,499.66 L593.04,499.55 L593.54,499.42 L594.04,499.28 L594.54,499.14 L595.04,498.99 L595.54,498.80 L596.04,498.57 L596.54,498.30 L597.04,497.99 L597.54,497.66 L598.04,497.30 L598.54,496.92 L599.04,496.54 L599.54,496.15 L600.04,495.77 L600.54,495.36 L601.04,494.92 L601.54,494.46 L602.04,493.97 L602.54,493.47 L603.04,492.95 L603.54,492.43 L604.04,491.91 L604.54,491.40 L605.04,490.90 L605.54,490.42 L606.04,489.96 L606.54,489.51 L607.04,489.06 L607.54,488.62 L608.04,488.17 L608.54,487.74 L609.04,487.31 L609.54,486.88 L610.04,486.47 L610.54,486.07 L611.04,485.69 L611.54,485.32 L612.04,484.97 L612.54,484.62 L613.04,484.27 L613.54,483.93 L614.04,483.58 L614.54,483.25 L615.04,482.93 L615.54,482.62 L616.04,482.34 L616.54,482.08 L617.04,481.85 L617.54,481.65 L618.04,481.49 L618.54,481.34 L619.04,481.20 L619.54,481.06 L620.04,480.93 L620.54,480.81 L621.04,480.70 L621.54,480.62 L622.04,480.55 L622.54,480.51 L623.04,480.50 L623.54,480.52 L624.04,480.56 L624.54,480.62 L625.04,480.71 L625.54,480.81 L626.04,480.93 L626.54,481.06 L627.04,481.20 L627.54,481.36 L628.04,481.51 L628.54,481.72 L629.04,481.98 L629.54,482.30 L630.04,482.67 L630.54,483.09 L631.04,483.54 L631.54,484.01 L632.04,484.51 L632.54,485.03 L633.04,485.55 L633.54,486.12 L634.04,486.76 L634.54,487.46 L635.04,488.20 L635.54,488.99 L636.04,489.80 L636.54,490.62 L637.04,491.45 L637.54,492.27 L638.04,493.07 L638.54,493.88 L639.04,494.70 L639.54,495.55 L640.04,496.41 L640.54,497.28 L641.04,498.15 L641.54,499.01 L642.04,499.87 L642.54,500.71 L643.04,501.52 L643.54,502.31 L644.04,503.07 L644.54,503.81 L645.04,504.54 L645.54,505.27 L646.04,505.99 L646.54,506.69 L647.04,507.38 L647.54,508.05 L648.04,508.71 L648.54,509.33 L649.04,509.93 L649.54,510.51 L650.04,511.05 L650.54,511.57 L651.04,512.10 L651.54,512.61 L652.04,513.11 L652.54,513.58 L653.04,514.03 L653.54,514.44 L654.04,514.82 L654.54,515.14 L655.04,515.42 L655.54,515.67 L656.04,515.92 L656.54,516.15 L657.04,516.36 L657.54,516.56 L658.04,516.74 L658.54,516.90 L659.04,517.03 L659.54,517.13 L660.04,517.21 L660.54,517.27 L661.04,517.32 L661.54,517.36 L662.04,517.39 L662.54,517.40 L663.04,517.37 L663.54,517.30 L664.04,517.20 L664.54,517.07 L665.04,516.91 L665.54,516.74 L666.04,516.56 L666.54,516.37 L667.04,516.18 L667.54,515.98 L668.04,515.75 L668.54,515.49 L669.04,515.21 L669.54,514.90 L670.04,514.58 L670.54,514.25 L671.04,513.90 L671.54,513.55 L672.04,513.19 L672.54,512.83 L673.04,512.47 L673.54,512.10 L674.04,511.72 L674.54,511.33 L675.04,510.92 L675.54,510.50 L676.04,510.07 L676.54,509.64 L677.04,509.20 L677.54,508.75 L678.04,508.29 L678.54,507.84 L679.04,507.38 L679.54,506.92 L680.04,506.46 L680.54,506.00 L681.04,505.54 L681.54,505.07 L682.04,504.60 L682.54,504.12 L683.04,503.64 L683.54,503.15 L684.04,502.65 L684.54,502.14 L685.04,501.62 L685.54,501.09 L686.04,500.55 L686.54,499.99 L687.04,499.42 L687.54,498.84 L688.04,498.24 L688.54,497.63 L689.04,497.01 L689.54,496.37 L690.04,495.74 L690.54,495.09 L691.04,494.44 L691.54,493.78 L692.04,493.12 L692.54,492.44 L693.04,491.76 L693.54,491.07 L694.04,490.36 L694.54,489.65 L695.04,488.92 L695.54,488.18 L696.04,487.43 L696.54,486.67 L697.04,485.88 L697.54,485.08 L698.04,484.27 L698.54,483.45 L699.04,482.61 L699.54,481.77 L700.04,480.93 L700.54,480.08 L701.04,479.23 L701.54,478.37 L702.04,477.52 L702.54,476.67 L703.04,475.82 L703.54,474.96 L704.04,474.09 L704.54,473.22 L705.04,472.35 L705.54,471.47 L706.04,470.59 L706.54,469.71 L707.04,468.83 L707.54,467.95 L708.04,467.06 L708.54,466.18 L709.04,465.29 L709.54,464.41 L710.04,463.52 L710.54,462.64 L711.04,461.75 L711.54,460.87 L712.04,459.98 L712.54,459.10 L713.04,458.21 L713.54,457.32 L714.04,456.43 L714.54,455.54 L715.04,454.64 L715.54,453.74 L716.04,452.84 L716.54,451.93 L717.04,451.02 L717.54,450.10 L718.04,449.18 L718.54,448.25 L719.04,447.31 L719.54,446.37 L720.04,445.42 L720.54,444.47 L721.04,443.52 L721.54,442.56 L722.04,441.60 L722.54,440.64 L723.04,439.68 L723.54,438.73 L724.04,437.77 L724.54,436.81 L725.04,435.86 L725.54,434.92 L726.04,433.97 L726.54,433.03 L727.04,432.09 L727.54,431.15 L728.04,430.22 L728.54,429.28 L729.04,428.34 L729.54,427.41 L730.04,426.47 L730.54,425.53 L731.04,424.59 L731.54,423.64 L732.04,422.69 L732.54,421.74 L733.04,420.79 L733.54,419.83 L734.04,418.87 L734.54,417.90 L735.04,416.93 L735.54,415.95 L736.04,414.97 L736.54,414.00 L737.04,413.02 L737.54,412.03 L738.04,411.05 L738.54,410.07 L739.04,409.09 L739.54,408.11 L740.04,407.13 L740.54,406.15 L741.04,405.17 L741.54,404.18 L742.04,403.20 L742.54,402.22 L743.04,401.23 L743.54,400.25 L744.04,399.27 L744.54,398.28 L745.04,397.30 L745.54,396.32 L746.04,395.33 L746.54,394.35 L747.04,393.37 L747.54,392.39 L748.04,391.41 L748.54,390.43 L749.04,389.45 L749.54,388.47 L750.04,387.49 L750.54,386.50 L751.04,385.51 L751.54,384.52 L752.04,383.52 L752.54,382.52 L753.04,381.51 L753.54,380.51 L754.04,379.50 L754.54,378.50 L755.04,377.49 L755.54,376.49 L756.04,375.50 L756.54,374.51 L757.04,373.52 L757.54,372.53 L758.04,371.54 L758.54,370.55 L759.04,369.56 L759.54,368.58 L760.04,367.61 L760.54,366.64 L761.04,365.68 L761.54,364.73 L762.04,363.79 L762.54,362.86 L763.04,361.94 L763.54,361.01 L764.04,360.10 L764.54,359.19 L765.04,358.29 L765.54,357.40 L766.04,356.53 L766.54,355.67 L767.04,354.83 L767.54,354.01 L768.04,353.21 L768.54,352.41 L769.04,351.62 L769.54,350.83 L770.04,350.06 L770.54,349.30 L771.04,348.56 L771.54,347.85 L772.04,347.17 L772.54,346.51 L773.04,345.90 L773.54,345.32 L774.04,344.76 L774.54,344.22 L775.04,343.69 L775.54,343.18 L776.04,342.68 L776.54,342.21 L777.04,341.76 L777.54,341.33 L778.04,340.93 L778.54,340.55 L779.04,340.20 L779.54,339.86 L780.04,339.53 L780.54,339.21 L781.04,338.90 L781.54,338.61 L782.04,338.34 L782.54,338.08 L783.04,337.84 L783.54,337.62 L784.04,337.42 L784.54,337.25 L785.04,337.09 L785.54,336.94 L786.04,336.79 L786.54,336.66 L787.04,336.54 L787.54,336.44 L788.04,336.36 L788.54,336.30 L789.04,336.25 L789.54,336.20 L790.04,336.16 L790.54,336.13 L791.04,336.11 L791.54,336.10 L792.04,336.11 L792.54,336.16 L793.04,336.22 L793.54,336.31 L794.04,336.41 L794.54,336.52 L795.04,336.63 L795.54,336.78 L796.04,336.96 L796.54,337.17 L797.04,337.41 L797.54,337.66 L798.04,337.93 L798.54,338.21 L799.04,338.50 L799.54,338.83 L800.04,339.18 L800.54,339.56 L801.04,339.95 L801.54,340.37 L802.04,340.78 L802.54,341.21 L803.04,341.65 L803.54,342.10 L804.04,342.56 L804.54,343.04 L805.04,343.54 L805.54,344.05 L806.04,344.58 L806.54,345.13 L807.04,345.69 L807.54,346.28 L808.04,346.89 L808.54,347.53 L809.04,348.19 L809.54,348.86 L810.04,349.56 L810.54,350.27 L811.04,351.01 L811.54,351.77 L812.04,352.56 L812.54,353.37 L813.04,354.20 L813.54,355.05 L814.04,355.93 L814.54,356.82 L815.04,357.73 L815.54,358.67 L816.04,359.64 L816.54,360.64 L817.04,361.65 L817.54,362.68 L818.04,363.72 L818.54,364.77 L819.04,365.83 L819.54,366.90 L820.04,367.98 L820.54,369.08 L821.04,370.20 L821.54,371.33 L822.04,372.47 L822.54,373.64 L823.04,374.82 L823.54,376.04 L824.04,377.29 L824.54,378.55 L825.04,379.83 L825.54,381.10 L826.04,382.37 L826.54,383.62 L827.04,384.84 L827.54,386.05 L828.04,387.25 L828.54,388.45 L829.04,389.66 L829.54,390.87 L830.04,392.11 L830.54,393.37 L831.04,394.64 L831.54,395.93 L832.04,397.22 L832.54,398.52 L833.04,399.82 L833.54,401.12 L834.04,402.43 L834.54,403.76 L835.04,405.08 L835.54,406.42 L836.04,407.75 L836.54,409.09 L837.04,410.42 L837.54,411.76 L838.04,413.08 L838.54,414.41 L839.04,415.72 L839.54,417.03 L840.04,418.32 L840.54,419.60 L841.04,420.87 L841.54,422.13 L842.04,423.38 L842.54,424.62 L843.04,425.85 L843.54,427.08 L844.04,428.30 L844.54,429.52 L845.04,430.73 L845.54,431.95 L846.04,433.16 L846.54,434.38 L847.04,435.60 L847.54,436.81 L848.04,438.03 L848.54,439.24 L849.04,440.45 L849.54,441.66 L850.04,442.87 L850.54,444.08 L851.04,445.28 L851.54,446.49 L852.04,447.70 L852.54,448.90 L853.04,450.11 L853.54,451.32 L854.04,452.54 L854.54,453.75 L855.04,454.97 L855.54,456.17 L856.04,457.36 L856.54,458.54 L857.04,459.70 L857.54,460.85 L858.04,461.99 L858.54,463.12 L859.04,464.25 L859.54,465.36 L860.04,466.47 L860.54,467.56 L861.04,468.65 L861.54,469.72 L862.04,470.77 L862.54,471.82 L863.04,472.86 L863.54,473.90 L864.04,474.93 L864.54,475.95 L865.04,476.96 L865.54,477.95 L866.04,478.93 L866.54,479.89 L867.04,480.83 L867.54,481.74 L868.04,482.63 L868.54,483.50 L869.04,484.35 L869.54,485.18 L870.04,485.99 L870.54,486.79 L871.04,487.58 L871.54,488.36 L872.04,489.14 L872.54,489.92 L873.04,490.70 L873.54,491.48 L874.04,492.27 L874.54,493.05 L875.04,493.83 L875.54,494.61 L876.04,495.39 L876.54,496.15 L877.04,496.91 L877.54,497.65 L878.04,498.38 L878.54,499.10 L879.04,499.80 L879.54,500.49 L880.04,501.17 L880.54,501.84 L881.04,502.50 L881.54,503.15 L882.04,503.79 L882.54,504.42 L883.04,505.04 L883.54,505.66 L884.04,506.27 L884.54,506.87 L885.04,507.47 L885.54,508.06 L886.04,508.65 L886.54,509.23 L887.04,509.80 L887.54,510.36 L888.04,510.92 L888.54,511.46 L889.04,512.00 L889.54,512.53 L890.04,513.05 L890.54,513.56 L891.04,514.06 L891.54,514.55 L892.04,515.04 L892.54,515.51 L893.04,515.99 L893.54,516.45 L894.04,516.91 L894.54,517.36 L895.04,517.81 L895.54,518.25 L896.04,518.69 L896.54,519.12 L897.04,519.54 L897.54,519.96 L898.04,520.37 L898.54,520.77 L899.04,521.18 L899.54,521.57 L900.04,521.97 L900.54,522.36 L901.04,522.76 L901.54,523.15 L902.04,523.54 L902.54,523.93 L903.04,524.31 L903.54,524.70 L904.04,525.08 L904.54,525.45 L905.04,525.82 L905.54,526.18 L906.04,526.54 L906.54,526.89 L907.04,527.24 L907.54,527.58 L908.04,527.92 L908.54,528.25 L909.04,528.58 L909.54,528.91 L910.04,529.22 L910.54,529.54 L911.04,529.84 L911.54,530.13 L912.04,530.41 L912.54,530.69 L913.04,530.96 L913.54,531.23 L914.04,531.50 L914.54,531.76 L915.04,532.01 L915.54,532.26 L916.04,532.49 L916.54,532.71 L917.04,532.92 L917.54,533.11 L918.04,533.29 L918.54,533.47 L919.04,533.65 L919.54,533.82 L920.04,533.95 L920.54,534.05 L921.04,534.10 L921.54,534.12 L922.04,534.14 L922.54,534.16 L923.04,534.17 L923.54,534.19 L924.04,534.19 L924.54,534.20 L925.04,534.20 L925.54,534.20 L926.04,534.20 L926.54,534.20 L927.04,534.20 L927.54,534.20 L928.04,534.20 L928.54,534.20 L929.04,534.20 L929.54,534.20 L930.04,534.20 L930.54,534.20 L931.04,534.20 L931.54,534.20 L932.04,534.20 L932.54,534.20 L933.04,534.20 L933.54,534.20 L934.04,534.20 L934.54,534.20 L935.04,534.20 L935.54,534.20 L936.04,534.20 L936.54,534.20 L937.04,534.20 L937.54,534.20 L938.04,534.20 L938.54,534.20 L939.04,534.20 L939.54,534.20 L940.04,534.20 L940.54,534.20 L941.04,534.20 L941.54,534.20 L942.04,534.20 L942.54,534.20 L943.04,534.20 L943.54,534.20 L944.04,534.20 L944.54,534.20 L945.04,534.20 L945.54,534.20 L946.04,534.20 L946.54,534.20 L947.04,534.20 L947.54,534.20 L948.04,534.20 L948.54,534.20 L949.04,534.20 L949.54,534.20 L950.04,534.20 L950.54,534.20 L951.04,534.20 L951.54,534.20 L952.04,534.20 L952.54,534.20 L953.04,534.20 L953.54,534.20 L954.04,534.20 L954.54,534.20 L955.04,534.20 L955.54,534.20 L956.04,534.20 L956.54,534.20 L957.04,534.20 L957.54,534.20 L958.04,534.20 L958.54,534.20 L959.04,534.20 L959.54,534.20 L960.04,534.20 L960.54,534.20 L961.04,534.20 L961.54,534.20 L962.04,534.20 L962.54,534.20 L963.04,534.20 L963.54,534.20 L964.04,534.20 L964.54,534.20 L965.04,534.20 L965.54,534.20 L966.04,534.20 L966.54,534.20 L967.04,534.20 L967.54,534.20 L968.04,534.20 L968.54,534.20 L969.04,534.20 L969.54,534.20 L970.04,534.20 L970.54,534.20 L971.04,534.20 L971.54,534.20 L972.04,534.20 L972.54,534.20 L973.04,534.20 L973.54,534.20 L974.04,534.20 L974.54,534.20 L975.04,534.20 L975.54,534.20 L976.04,534.20 L976.54,534.20 L977.04,534.20 L977.54,534.20 L978.04,534.20 L978.54,534.20 L979.04,534.20 L979.54,534.20 L980.04,534.20 L980.54,534.20 L981.04,534.20 L981.54,534.20 L982.04,534.20 L982.54,534.20 L983.04,534.20 L983.54,534.20 L984.04,534.20 L984.54,534.20 L985.04,534.20 L985.54,534.20 L986.04,534.20 L986.54,534.20 L987.04,534.20 L987.54,534.20 L988.04,534.20 L988.54,534.20 L989.04,534.20 L989.54,534.20 L990.04,534.20 L990.54,534.20 L991.04,534.20 L991.54,534.20 L992.04,534.20 L992.54,534.20 L993.04,534.20 L993.54,534.20 L994.04,534.20 L994.54,534.20 L995.04,534.20 L995.54,534.20 L996.04,534.20 L996.54,534.20 L997.04,534.20 L997.54,534.20 L998.04,534.20 L998.54,534.20 L999.04,534.20 L999.54,534.20 L1000.04,534.20 L1000.54,534.20 L1001.04,534.20 L1001.54,534.20 L1002.04,534.20 L1002.54,534.20 L1003.04,534.20 L1003.54,534.20 L1004.04,534.20 L1004.54,534.20 L1005.04,534.20 L1005.54,534.20 L1006.04,534.20 L1006.54,534.20 L1007.04,534.20 L1007.54,534.20 L1008.04,534.20 L1008.54,534.20 L1009.04,534.20 L1009.54,534.20 L1010.04,534.20 L1010.54,534.20 L1011.04,534.20 L1011.54,534.20 L1012.04,534.20 L1012.54,534.20 L1013.04,534.20 L1013.54,534.20 L1014.04,534.20 L1014.54,534.20 L1015.04,534.20 L1015.54,534.20 L1016.04,534.20" fill="none" stroke="#050505" stroke-width="2" stroke-linejoin="round" stroke-linecap="round"/>
</svg>
<div class="title">Serumprotein Elektrophorese</div>
<div class="hd" style="left:121px">Fraktion</div>
<div class="hd" style="left:208px;width:100px;text-align:right">%</div>
<div class="rule"></div>
<div class="rn" style="top:726.2px">Albumin</div><div class="rv" style="top:726.2px">33,6</div>
<div class="rn" style="top:754.4px">Alpha 1</div><div class="rv" style="top:754.4px">1,6</div>
<div class="rn" style="top:782.5px">Alpha 2</div><div class="rv" style="top:782.5px">7,1</div>
<div class="rn" style="top:810.7px">Beta 1</div><div class="rv" style="top:810.7px">4,2</div>
<div class="rn" style="top:838.8px">Beta 2</div><div class="rv" style="top:838.8px">5,3</div>
<div class="rn" style="top:867.0px">Gamma</div><div class="rv" style="top:867.0px">48,2</div>

<div class="gel"></div>
<div class="wm" style="left:33px;top:851.5px;font-size:16px;letter-spacing:1.9px;">&copy; Maine Coon Castle<sup style="font-size:8px">&reg;</sup></div>
<div class="wm" style="left:33px;top:867.5px;font-size:12px;letter-spacing:2.2px;font-weight:normal;">www.maine-coon-castle.de</div>
<div class="wm" style="left:993px;top:853px;font-size:16px;letter-spacing:1.7px;">Maine Coon Castle<sup style="font-size:8px">&reg;</sup></div>
<div class="wm" style="left:993px;top:869px;font-size:12px;letter-spacing:1.15px;font-weight:normal;">www.maine-coon-castle.de</div>
</body>
</html>
